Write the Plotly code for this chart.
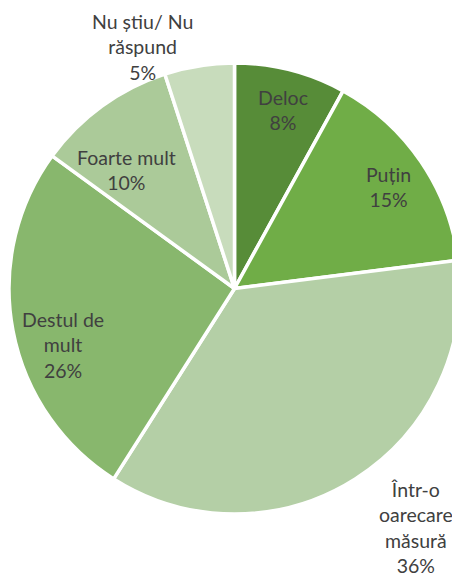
import plotly.graph_objects as go

categories = ["Deloc", "Puțin", "Într-o oarecare măsură", "Destul de mult", "Foarte mult", "Nu știu/ Nu răspund"]
display_labels = ["Deloc", "Puțin", "Într-o<br>oarecare<br>măsură", "Destul de<br>mult", "Foarte mult", "Nu știu/ Nu<br>răspund"]
values = [8, 15, 36, 26, 10, 5]
colors = ["#578C38", "#70AD47", "#B4CFA6", "#88B76D", "#ABCA99", "#C8DCBC"]

# label anchor positions (pixels in the page, 460x580 window)
label_px = [(283, 110), (388, 187), (416, 527), (63, 345), (126, 170), (142, 47)]

OFF = 8  # default page body margin
W, H = 460 - OFF, 580 - OFF

fig = go.Figure(go.Pie(
    labels=categories,
    values=values,
    sort=False,
    direction="clockwise",
    rotation=0,
    marker=dict(colors=colors, line=dict(color="white", width=3.5)),
    textinfo="none",
    hoverinfo="label+percent",
    showlegend=False,
    domain=dict(x=[1 / W, 1.0], y=[1 - 508 / H, 1 - 53 / H]),
))

annotations = []
for lab, val, (px, py) in zip(display_labels, values, label_px):
    annotations.append(dict(
        text=f"{lab}<br>{val}%",
        x=(px - OFF) / W, y=1 - (py - OFF) / H, xref="paper", yref="paper",
        xanchor="center", yanchor="middle", showarrow=False,
        align="center",
        font=dict(family="Lato, Open Sans, sans-serif", size=19.5, color="#404040"),
    ))

fig.update_layout(
    width=W, height=H,
    margin=dict(l=0, r=0, t=0, b=0),
    paper_bgcolor="white", plot_bgcolor="white",
    annotations=annotations,
)

fig.write_html("out.html")
